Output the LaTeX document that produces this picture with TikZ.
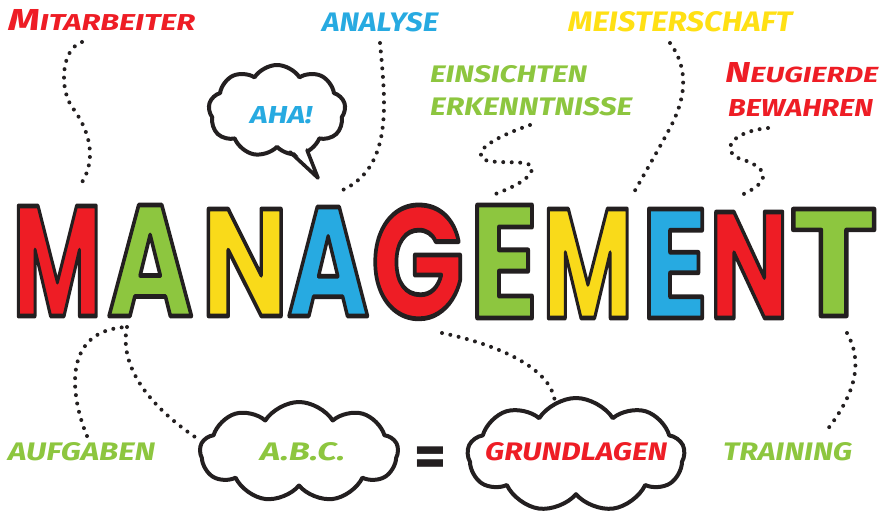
\documentclass[tikz,border=0pt]{standalone}
\usepackage{fontspec}
\usepackage{graphicx}
\setmainfont{Fira Sans}
\newfontfamily\bigf{Poppins}[FakeBold=3]
\usetikzlibrary{shapes.symbols}
\definecolor{cred}{HTML}{EE1D25}
\definecolor{cgreen}{HTML}{8DC63F}
\definecolor{cyellow}{HTML}{F9DA1A}
\definecolor{cblue}{HTML}{27AAE1}
\definecolor{lbyellow}{HTML}{FFE014}
\definecolor{ink}{HTML}{231F20}
% fill colour given as "r g b"; stroke in ink
\newcommand\olet[4]{%
  \special{pdf:bcolor [#1] [0.137 0.122 0.125]}%
  \resizebox{#2}{#3}{\fontsize{140}{140}\bigf\bfseries #4}%
  \special{pdf:ecolor}}
\newcommand\lbl[3]{\resizebox{#1}{#2}{\bfseries\itshape #3}}
\tikzset{
  lab/.style={inner sep=0pt, anchor=base west},
  letter/.style={inner sep=0pt, anchor=base west, line join=round},
  dotline/.style={draw=ink, line width=4pt, line cap=round, dash pattern=on 0pt off 8.5pt},
  cloudy/.style={cloud, draw=ink, fill=white, line width=4pt, cloud puffs=9, cloud puff arc=115, cloud ignores aspect, inner sep=0pt},
}
\begin{document}
\begin{tikzpicture}[x=1pt,y=-1pt,line join=round]
\useasboundingbox (0,0) rectangle (883,513);
\fill[white] (0,0) rectangle (883,513);
% connectors
\coordinate (c1a) at (82,42);  \coordinate (c1b) at (78,188);
\coordinate (c2a) at (380,43); \coordinate (c2b) at (338,192);
\coordinate (c3a) at (530,125); \coordinate (c3b) at (493,195);
\coordinate (c4a) at (670,43); \coordinate (c4b) at (633,194);
\coordinate (c5a) at (768,128); \coordinate (c5b) at (737,197);
\coordinate (c6a) at (87,436); \coordinate (c6b) at (127,327);
\coordinate (c7b) at (198,439);
\coordinate (c8a) at (442,333); \coordinate (c8b) at (555,405);
\coordinate (c9a) at (847,333); \coordinate (c9b) at (827,430);
\draw[dotline] (c1a) .. controls (60,50) and (60,90) .. (72,107) .. controls (88,128) and (100,160) .. (c1b);
\draw[dotline] (c2a) .. controls (385,100) and (395,170) .. (c2b);
\draw[dotline] (c3a) .. controls (495,137) and (470,152) .. (485,160) .. controls (500,165) and (535,158) .. (532,170) .. controls (528,182) and (505,190) .. (c3b);
\draw[dotline] (c4a) .. controls (690,70) and (685,100) .. (670,128) .. controls (658,150) .. (c4b);
\draw[dotline] (c5a) .. controls (730,132) and (722,150) .. (738,158) .. controls (765,166) and (778,180) .. (c5b);
\draw[dotline] (c6a) .. controls (70,395) and (62,330) .. (c6b);
\draw[dotline] (c6b) .. controls (120,360) and (140,400) .. (c7b);
\draw[dotline] (c8a) .. controls (500,345) and (555,370) .. (c8b);
\draw[dotline] (c9a) .. controls (862,360) and (858,390) .. (c9b);
% big letters
\node[letter] (L1) at (12,316) {\olet{0.933 0.114 0.145}{90pt}{110pt}{M}};
\node[letter] (L2) at (107,316) {\olet{0.553 0.776 0.247}{86pt}{111pt}{A}};
\node[letter] (L3) at (201,316) {\olet{0.976 0.855 0.102}{87pt}{107pt}{N}};
\node[letter] (L4) at (287,316) {\olet{0.153 0.667 0.882}{82pt}{109pt}{A}};
\node[letter] (L5) at (371,318) {\olet{0.933 0.114 0.145}{93pt}{113pt}{G}};
\node[letter] (L6) at (469,318) {\olet{0.553 0.776 0.247}{69pt}{113pt}{E}};
\node[letter] (L7) at (542,318) {\olet{0.976 0.855 0.102}{91pt}{109pt}{M}};
\node[letter] (L8) at (641,318) {\olet{0.153 0.667 0.882}{67pt}{109pt}{E}};
\node[letter] (L9) at (709,318) {\olet{0.933 0.114 0.145}{80pt}{106pt}{N}};
\node[letter] (L10) at (789.5,316) {\olet{0.553 0.776 0.247}{88pt}{107pt}{T}};
% clouds
\node[cloudy, minimum width=137pt, minimum height=92pt] (ahaCloud) at (277,111) {};
\fill[white] (291,148) -- (318,178) -- (306,146) -- cycle;
\draw[ink, line width=3.6pt, line join=round, line cap=round] (290,152) -- (318,178) -- (307,150);
\node[cloudy, minimum width=198pt, minimum height=100pt] (abcCloud) at (299,452) {};
\node[cloudy, minimum width=217pt, minimum height=114pt] (gruCloud) at (576,455) {};
% labels
\node[lab, text=cred] (mit) at (8,31) {\lbl{187pt}{21pt}{{\fontsize{29}{29}\selectfont M}\fontsize{22}{22}\selectfont ITARBEITER}};
\node[lab, text=cblue] (ana) at (322,32) {\lbl{116pt}{19pt}{ANALYSE}};
\node[lab, text=lbyellow] (mei) at (568,32) {\lbl{224pt}{20pt}{MEISTERSCHAFT}};
\node[lab, text=cgreen] (ein) at (430,83) {\lbl{157pt}{17pt}{EINSICHTEN}};
\node[lab, text=cgreen] (erk) at (430,116) {\lbl{202pt}{18pt}{ERKENNTNISSE}};
\node[lab, text=cred] (neu) at (725,83) {\lbl{153pt}{20pt}{{\fontsize{29}{29}\selectfont N}\fontsize{22}{22}\selectfont EUGIERDE}};
\node[lab, text=cred] (bew) at (728,117) {\lbl{145pt}{17pt}{BEWAHREN}};
\node[lab, text=cblue] (aha) at (250,124) {\lbl{62pt}{17pt}{AHA!}};
\node[lab, text=cgreen] (auf) at (8,460) {\lbl{147pt}{18pt}{AUFGABEN}};
\node[lab, text=cgreen] (abc) at (260,460) {\lbl{85pt}{18pt}{A.B.C.}};
\node[lab, text=cred] (gru) at (485,460) {\lbl{182pt}{18pt}{GRUNDLAGEN}};
\node[lab, text=cgreen] (tra) at (723,460) {\lbl{129pt}{18pt}{TRAINING}};
\node[inner sep=0pt, text=ink] (eq) at (431,462) {\resizebox{32pt}{!}{\bfseries =}};
\end{tikzpicture}
\end{document}
